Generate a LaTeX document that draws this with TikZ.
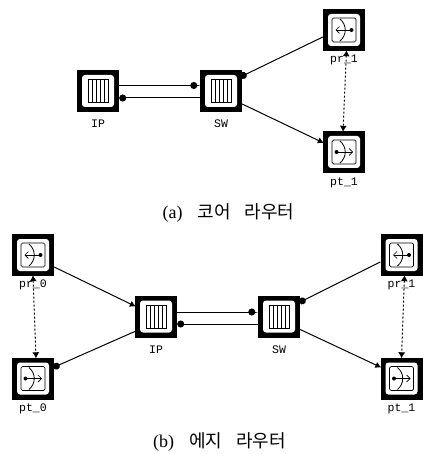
\documentclass[tikz,border=0pt]{standalone}
\usepackage{fontspec}
\setmainfont{Liberation Serif}
\newfontfamily\portfont{Liberation Mono}
\newfontfamily\krfont{Noto Sans CJK KR}
\usetikzlibrary{arrows.meta}

\tikzset{
	x=1pt, y=1pt,
	modbox/.style={rectangle, fill=black, minimum size=42pt, inner sep=0pt},
	portname/.style={font=\portfont\fontsize{11.5}{12}\selectfont, inner sep=0pt},
	capt/.style={font=\fontsize{18}{20}\selectfont, inner sep=0pt},
	link/.style={line width=1pt},
	dotlink/.style={line width=1pt, dash pattern=on 2pt off 2pt, {Latex[length=6pt,width=7pt]}-{Latex[length=6pt,width=7pt]}},
	porttip/.style={-{Circle[length=7pt,width=7pt,sep=0pt]}},
	stubtip/.style={-{Circle[length=7pt,width=7pt,sep=0pt] Square[length=2.5pt,width=1pt,sep=0pt]}},
	headtip/.style={-{Latex[length=6pt,width=6.5pt]}}
}

% white window of a module, centred on its node
\newcommand{\modwindow}[1]{
	\fill[white, rounded corners=3pt] ([shift={(-16,-16)}]#1.center) rectangle ([shift={(16,16)}]#1.center);
}
\newcommand{\queueicon}[1]{
	\modwindow{#1}
	\draw[line width=0.5pt] ([shift={(-10,-11.5)}]#1.center) rectangle ([shift={(10,11.5)}]#1.center);
	\foreach \x in {-6,-2,2,6} {
		\draw[line width=0.5pt] ([shift={(\x,-11.5)}]#1.center) -- ([shift={(\x,11.5)}]#1.center);
	}
}
\newcommand{\streamicon}[1]{
	\modwindow{#1}
	\draw[line width=0.7pt, rounded corners=1.5pt] ([shift={(-12,-12)}]#1.center) rectangle ([shift={(12,12)}]#1.center);
	\draw[line width=0.8pt] ([shift={(-4,11)}]#1.center) .. controls ([shift={(3,5)}]#1.center) and ([shift={(3,-5)}]#1.center) .. ([shift={(-4,-11)}]#1.center);
}
\newcommand{\recvicon}[1]{
	\streamicon{#1}
	\draw[line width=0.7pt, {Straight Barb[length=3.5pt,width=7pt]}-] ([xshift=-8.5pt]#1.center) -- ([xshift=7pt]#1.center);
	\fill ([xshift=7.5pt]#1.center) circle (2pt);
}
\newcommand{\sendicon}[1]{
	\streamicon{#1}
	\draw[line width=0.7pt, -{Straight Barb[length=3.5pt,width=7pt]}] ([xshift=-7pt]#1.center) -- ([xshift=9pt]#1.center);
	\fill ([xshift=-7.5pt]#1.center) circle (2pt);
}

\begin{document}
\begin{tikzpicture}
	\useasboundingbox (0,0) rectangle (422,-454);

	% core router
	\node[modbox] (ipa) at (98,-91) {};
	\node[modbox] (swa) at (221,-91) {};
	\node[modbox] (pra) at (344,-30) {};
	\node[modbox] (pta) at (344,-152) {};
	\queueicon{ipa}
	\queueicon{swa}
	\recvicon{pra}
	\sendicon{pta}
	\node[portname] (ipa_l) at (98,-124) {IP};
	\node[portname] (swa_l) at (221,-124) {SW};
	\node[portname] (pra_l) at (344,-60) {pr\_1};
	\node[portname] (pta_l) at (344,-183) {pt\_1};

	\draw[link, stubtip] ([yshift=5.5pt]ipa.east) -- ([yshift=5.5pt]swa.west);
	\draw[link, porttip] ([yshift=-7pt]swa.west) -- ([yshift=-7pt]ipa.east);
	\draw[link, porttip] ([yshift=-7pt]pra.west) -- ([yshift=14pt,xshift=-2pt]swa.east);
	\draw[link, headtip] ([yshift=-13pt]swa.east) -- ([yshift=9pt,xshift=1pt]pta.west);
	\draw[dotlink] ([xshift=2.5pt,yshift=1pt]pra.south) -- ([xshift=-1pt,yshift=-1pt]pta.north);

	\node[capt, anchor=center] (capa) at (228.5,-213) {(a)\hspace{15pt}{\krfont 코어\hspace{14pt}라우터}};

	% edge router
	\node[modbox] (ipb) at (156,-316.5) {};
	\node[modbox] (swb) at (279,-316.5) {};
	\node[modbox] (pr0) at (33,-255) {};
	\node[modbox] (pt0) at (33,-378.5) {};
	\node[modbox] (pr1) at (401.5,-255) {};
	\node[modbox] (pt1) at (401.5,-378.5) {};
	\foreach \n in {ipb,swb} {
		\queueicon{\n}
	}
	\foreach \n in {pr0,pr1} {
		\recvicon{\n}
	}
	\foreach \n in {pt0,pt1} {
		\sendicon{\n}
	}
	\node[portname] (ipb_l) at (156,-350) {IP};
	\node[portname] (swb_l) at (279,-350) {SW};
	\node[portname] (pr0_l) at (33,-285) {pr\_0};
	\node[portname] (pt0_l) at (33,-409) {pt\_0};
	\node[portname] (pr1_l) at (401.5,-285) {pr\_1};
	\node[portname] (pt1_l) at (401.5,-409) {pt\_1};

	\draw[link, headtip] ([yshift=-12pt]pr0.east) -- ([yshift=10pt,xshift=1pt]ipb.west);
	\draw[link, porttip] ([yshift=-15pt]ipb.west) -- ([yshift=11pt,xshift=-1pt]pt0.east);
	\draw[link, stubtip] ([yshift=4.5pt]ipb.east) -- ([yshift=4.5pt]swb.west);
	\draw[link, porttip] ([yshift=-7.5pt]swb.west) -- ([yshift=-7.5pt]ipb.east);
	\draw[link, porttip] ([yshift=-7pt]pr1.west) -- ([yshift=14pt,xshift=-1pt]swb.east);
	\draw[link, headtip] ([yshift=-13pt]swb.east) -- ([yshift=11pt,xshift=1pt]pt1.west);
	\draw[dotlink] ([yshift=1pt]pr0.south) -- ([xshift=3pt,yshift=-1pt]pt0.north);
	\draw[dotlink] ([xshift=3pt,yshift=1pt]pr1.south) -- ([yshift=-1pt]pt1.north);

	\node[capt, anchor=center] (capb) at (219.5,-442) {(b)\hspace{15pt}{\krfont 에지\hspace{14pt}라우터}};
\end{tikzpicture}
\end{document}
